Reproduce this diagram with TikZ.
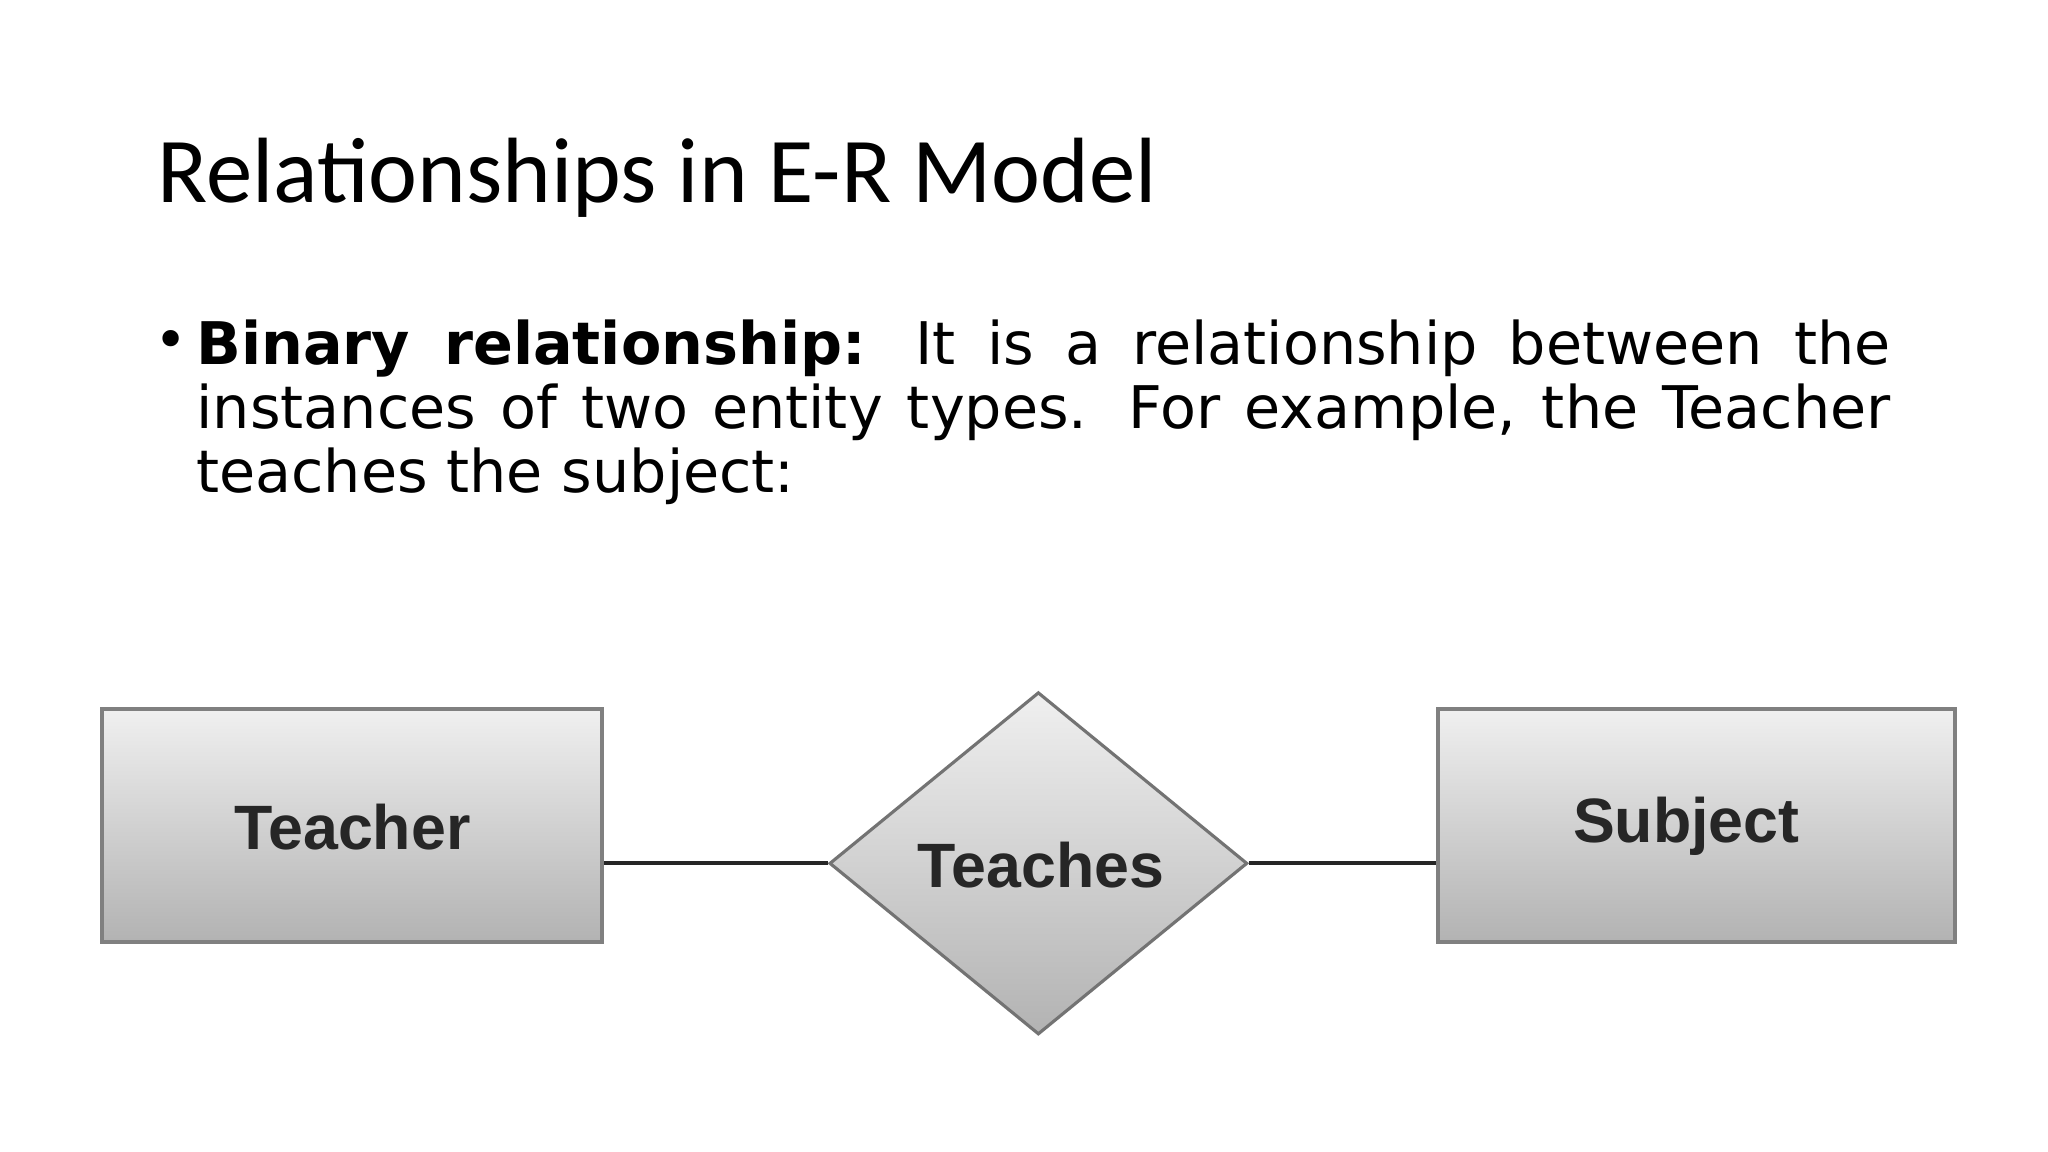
\documentclass[tikz,border=0pt]{standalone}
\usepackage{fontspec}
\setmainfont{DejaVu Sans}
\newfontfamily\titlefont{Carlito}
\newfontfamily\labfont{Liberation Sans}
\usetikzlibrary{shapes.geometric}
\begin{document}
\begin{tikzpicture}[x=0.5pt,y=-0.5pt,
  ent/.style={draw=black!50,line width=1.5pt,top color=black!6,bottom color=black!30,minimum width=198pt,minimum height=89pt,inner sep=0pt},
  ent2/.style={ent,minimum width=191.5pt},
  rel/.style={diamond,draw=black!55,line width=1.2pt,top color=black!6,bottom color=black!30,minimum width=160pt,minimum height=131pt,inner sep=0pt},
  lab/.style={font=\labfont\bfseries\fontsize{24}{28}\selectfont,text=black!85},
  conn/.style={line width=1.5pt,black!85}]
\useasboundingbox[fill=white] (0,0) rectangle (1568,882);
\node[anchor=base west,inner sep=0pt,font=\titlefont\fontsize{35.5}{40}\selectfont] (title) at (120,155) {Relationships in E-R Model};
\node[anchor=base west,inner sep=0pt,font=\fontsize{21.5}{24.5}\selectfont] (bul) at (118,275) {•};
\node[anchor=base west,inner sep=0pt,text width=648.5pt,align=justify,font=\fontsize{22.5}{24.5}\selectfont] (body) at (150,279)
{\textbf{Binary relationship:} It is a relationship between the\linebreak instances of two entity types. For example, the Teacher\linebreak teaches the subject:};
\node[ent2] (teacher) at (269.5,632) {};
\node[lab] (teacherlab) at (270,633) {Teacher};
\node[ent] (subject) at (1299,632) {};
\node[lab] (subjectlab) at (1291,633) {Subject};
\node[rel] (teaches) at (795,661) {};
\node[lab] (teacheslab) at (797,662) {Teaches};
\draw[conn] (teacher.east|-teaches.west) -- (teaches.west);
\draw[conn] (teaches.east) -- (subject.west|-teaches.east);
\end{tikzpicture}
\end{document}
